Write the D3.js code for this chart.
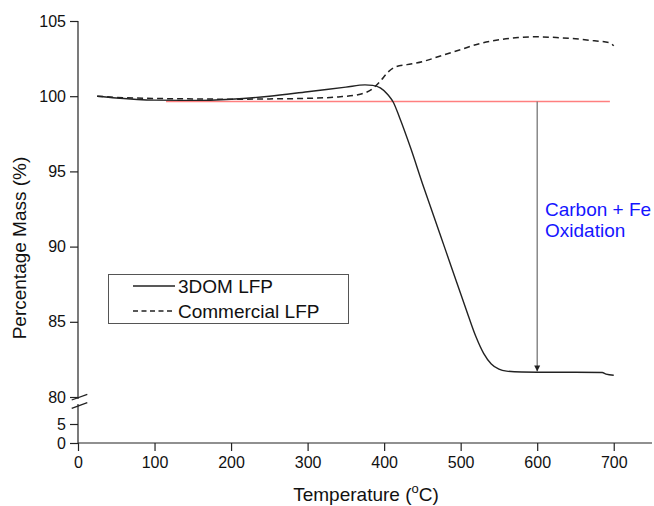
<!DOCTYPE html>
<html lang="en">
<head>
<meta charset="UTF-8">
<script src="https://d3js.org/d3.v7.min.js"></script>
<style>
  body { margin: 0; background: #fff; }
  svg text { font-family: "Liberation Sans", Arial, sans-serif; fill: #111; }
  .axis path, .axis line { stroke: #222; stroke-width: 1.2px; }
  .axis text { font-size: 16px; }
</style>
</head>
<body>
<script>
// 3DOM LFP (solid)
const tempDom = [25, 50, 100, 150, 200, 250, 300, 350, 375, 385, 395, 405, 412, 420, 435, 450, 465, 480, 495, 510, 520, 530, 540, 550, 560, 580, 600, 650, 685, 690, 700];
const massDom = [100.0, 99.88, 99.74, 99.72, 99.8, 100.0, 100.3, 100.6, 100.75, 100.72, 100.55, 100.1, 99.6, 98.6, 96.5, 94.2, 92.0, 89.8, 87.6, 85.4, 84.0, 82.9, 82.2, 81.85, 81.72, 81.66, 81.65, 81.65, 81.63, 81.52, 81.45];

// Commercial LFP (dashed)
const tempCom = [25, 50, 100, 150, 200, 250, 300, 340, 370, 385, 395, 405, 415, 430, 450, 475, 500, 525, 550, 575, 600, 625, 650, 675, 695, 700];
const massCom = [100.0, 99.92, 99.85, 99.82, 99.8, 99.82, 99.86, 99.95, 100.15, 100.5, 101.0, 101.6, 101.95, 102.1, 102.3, 102.7, 103.1, 103.5, 103.75, 103.9, 103.95, 103.9, 103.82, 103.68, 103.55, 103.35];

// reference level and mass-loss arrow
const refLine = { t0: 115, t1: 695, mass: 99.65 };
const arrow = { t: 600, from: 99.65, to: 81.7 };

const xTicks = [0, 100, 200, 300, 400, 500, 600, 700];
const xMinor = d3.range(0, 751, 50);
const yTicksUpper = [80, 85, 90, 95, 100, 105];
const yMinorUpper = d3.range(80, 106, 1);
const yTicksLower = [0, 5];

const W = 654, H = 506;
const svg = d3.select("body").append("svg").attr("width", W).attr("height", H);

const x = d3.scaleLinear().domain([0, 750]).range([78, 652]);
const yUp = d3.scaleLinear().domain([80, 105]).range([397, 21]);
const yLo = d3.scaleLinear().domain([0, 5]).range([443, 424]);

// x axis
const gx = svg.append("g").attr("class", "axis").attr("transform", "translate(0,443)");
gx.call(d3.axisBottom(x).tickValues(xMinor).tickSize(4).tickFormat(""));
gx.call(d3.axisBottom(x).tickValues(xTicks).tickSize(8).tickPadding(6).tickFormat(d3.format("d")));
gx.selectAll(".domain").attr("d", "M78,0H652");

// y axis, upper part
const gy = svg.append("g").attr("class", "axis").attr("transform", "translate(78,0)");
gy.call(d3.axisLeft(yUp).tickValues(yMinorUpper).tickSize(4).tickFormat(""));
gy.call(d3.axisLeft(yUp).tickValues(yTicksUpper).tickSize(8).tickPadding(4).tickFormat(d3.format("d")));
gy.selectAll(".domain").remove();

// y axis, lower part
const gy2 = svg.append("g").attr("class", "axis").attr("transform", "translate(78,0)");
gy2.call(d3.axisLeft(yLo).tickValues(yTicksLower).tickSize(8).tickPadding(4).tickFormat(d3.format("d")));
gy2.selectAll(".domain").remove();

svg.append("line").attr("x1", 78).attr("x2", 78).attr("y1", yUp(105)).attr("y2", yLo(0))
  .attr("stroke", "#222").attr("stroke-width", 1.2);

// break marks
svg.append("rect").attr("x", 74).attr("y", 399).attr("width", 8).attr("height", 5).attr("fill", "#fff");
[0, 8.3].forEach(dy => {
  svg.append("line").attr("x1", 71.7).attr("y1", 400 + dy).attr("x2", 87.3).attr("y2", 394.3 + dy)
    .attr("stroke", "#222").attr("stroke-width", 1.3);
});

// reference line
svg.append("line")
  .attr("x1", x(refLine.t0)).attr("x2", x(refLine.t1))
  .attr("y1", yUp(refLine.mass)).attr("y2", yUp(refLine.mass))
  .attr("stroke", "#ff7f7f").attr("stroke-width", 1.6);

// arrow
svg.append("defs").append("marker").attr("id", "ah")
  .attr("viewBox", "0 0 10 10").attr("refX", 10).attr("refY", 5)
  .attr("markerWidth", 6).attr("markerHeight", 8).attr("markerUnits", "userSpaceOnUse")
  .attr("orient", "auto")
  .append("path").attr("d", "M0,0L10,5L0,10Z").attr("fill", "#222");
svg.append("line")
  .attr("x1", x(arrow.t)).attr("x2", x(arrow.t))
  .attr("y1", yUp(arrow.from)).attr("y2", yUp(arrow.to))
  .attr("stroke", "#777").attr("stroke-width", 1.3).attr("marker-end", "url(#ah)");

const line = d3.line().curve(d3.curveMonotoneX);

svg.append("path")
  .attr("d", line(tempCom.map((t, i) => [x(t), yUp(massCom[i])])))
  .attr("fill", "none").attr("stroke", "#222").attr("stroke-width", 1.5)
  .attr("stroke-dasharray", "6,4");

svg.append("path")
  .attr("d", line(tempDom.map((t, i) => [x(t), yUp(massDom[i])])))
  .attr("fill", "none").attr("stroke", "#222").attr("stroke-width", 1.4);

// annotation
const ann = svg.append("text").attr("x", 545).attr("font-size", 19).style("fill", "#1515ff");
ann.append("tspan").attr("x", 545).attr("y", 216).text("Carbon + Fe");
ann.append("tspan").attr("x", 545).attr("y", 237).text("Oxidation");

// legend
svg.append("rect").attr("x", 108.5).attr("y", 274.5).attr("width", 240).attr("height", 49)
  .attr("fill", "#fff").attr("stroke", "#555").attr("stroke-width", 1);
svg.append("line").attr("x1", 133).attr("x2", 175).attr("y1", 286).attr("y2", 286)
  .attr("stroke", "#222").attr("stroke-width", 1.4);
svg.append("line").attr("x1", 133).attr("x2", 175).attr("y1", 311).attr("y2", 311)
  .attr("stroke", "#222").attr("stroke-width", 1.4).attr("stroke-dasharray", "5,3.5");
svg.append("text").attr("x", 178).attr("y", 293).attr("font-size", 19).text("3DOM LFP");
svg.append("text").attr("x", 178).attr("y", 318).attr("font-size", 19).text("Commercial LFP");

// axis titles
const xt = svg.append("text").attr("x", 366).attr("y", 501).attr("text-anchor", "middle").attr("font-size", 19);
xt.append("tspan").text("Temperature (");
xt.append("tspan").attr("font-size", 13).attr("dy", -8).text("o");
xt.append("tspan").attr("dy", 8).text("C)");

svg.append("text").attr("transform", "translate(26,248) rotate(-90)")
  .attr("text-anchor", "middle").attr("font-size", 19).text("Percentage Mass (%)");
</script>
</body>
</html>
